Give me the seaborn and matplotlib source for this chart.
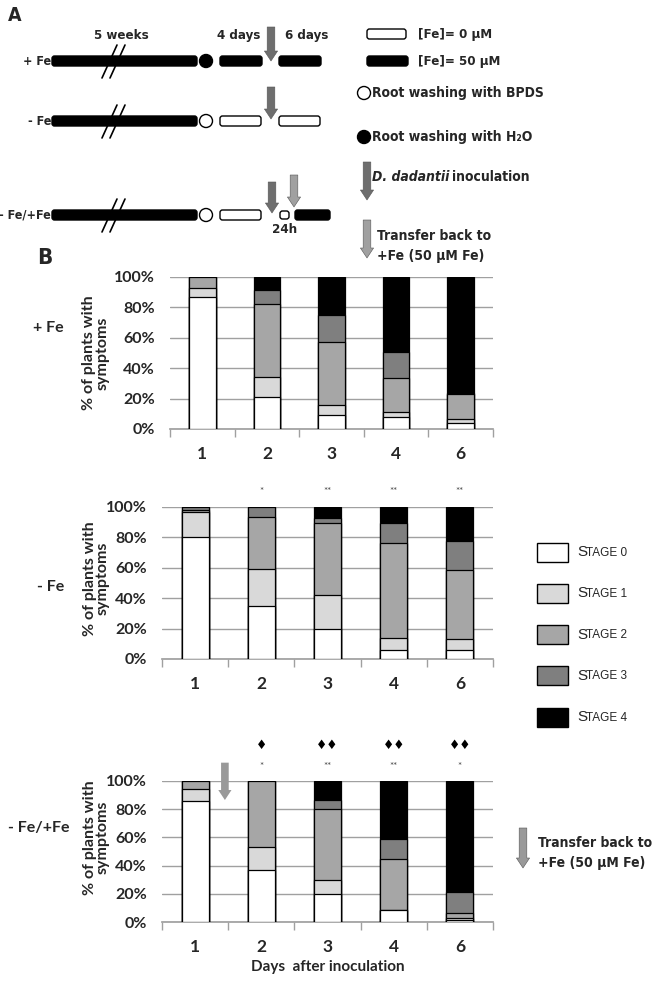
import numpy as np
import matplotlib
matplotlib.use("Agg")
import matplotlib.pyplot as plt
from matplotlib.patches import FancyBboxPatch, Rectangle, Circle
import seaborn as sns

# ---- data ----
days = ["1", "2", "3", "4", "6"]
stages = ["0", "1", "2", "3", "4"]
stage_colors = ["#ffffff", "#d9d9d9", "#a6a6a6", "#7f7f7f", "#000000"]

# rows = stage 0..4, columns = days
plus_fe = [[87, 21, 9, 8, 4],
           [6, 13, 7, 3.5, 2.5],
           [7, 48, 41, 22, 16.5],
           [0, 9.5, 18, 17, 1],
           [0, 8.5, 25, 49.5, 76]]
minus_fe = [[80, 35, 20, 6, 6],
            [16.5, 24, 22, 7.5, 7],
            [1.5, 34.5, 47.5, 62.5, 45.5],
            [2, 6.5, 3, 13.5, 19],
            [0, 0, 7.5, 10.5, 22.5]]
back_fe = [[86, 37, 20, 8.5, 1.5],
           [8, 16, 9.5, 0, 1.5],
           [6, 47, 50.5, 36.5, 3.5],
           [0, 0, 6.5, 14, 14.5],
           [0, 0, 13.5, 41, 79]]

minus_stars = ["", "*", "**", "**", "**"]
back_stars = ["", "*", "**", "**", "*"]
back_diamonds = ["", "\u2666", "\u2666\u2666", "\u2666\u2666", "\u2666\u2666"]

sns.set_theme(style="white")
plt.rcParams['font.family'] = ['Lato', 'DejaVu Sans']
NARROW = dict(family="DejaVu Sans", fontstretch="condensed", fontweight="bold")
DARK = "#6e6e6e"
LIGHT = "#a0a0a0"

W, H = 671, 982
fig = plt.figure(figsize=(W / 100, H / 100), dpi=100)

# overlay axes in pixel coordinates for the scheme (panel A) and extra labels
ov = fig.add_axes([0, 0, 1, 1])
ov.set_xlim(0, W)
ov.set_ylim(H, 0)
ov.axis("off")


def down_arrow(ax, x, y_from, y_to, color, ms=10):
    ax.annotate("", xy=(x, y_to), xytext=(x, y_from),
                arrowprops=dict(arrowstyle="simple,head_length=0.72,head_width=0.95,tail_width=0.55",
                                fc=color, ec="#555555", lw=0.4, shrinkA=0, shrinkB=0,
                                mutation_scale=ms),
                annotation_clip=False)


def seg(x0, x1, y, filled, h=10):
    ov.add_patch(FancyBboxPatch((x0, y - h / 2), x1 - x0, h,
                                boxstyle="round,pad=0,rounding_size=2.5",
                                fc="black" if filled else "white", ec="black", lw=1))


def slash(y):
    for dx in (0, 8):
        ov.plot([102 + dx, 117 + dx], [y + 17, y - 16], color="black", lw=1.2)


# ---- panel A ----
ov.text(8, 15, "A", fontsize=14, va="center", **NARROW)
ov.text(121, 35, "5 weeks", fontsize=9.5, ha="center", va="center", **NARROW)
ov.text(239, 35, "4 days", fontsize=9.5, ha="center", va="center", **NARROW)
ov.text(307, 35, "6 days", fontsize=9.5, ha="center", va="center", **NARROW)

row_y = [61, 121, 215]
row_names = ["+ Fe", "- Fe", "- Fe/+Fe"]
for y, name in zip(row_y, row_names):
    ov.text(51, y, name, fontsize=9, ha="right", va="center", **NARROW)
    seg(52, 197, y, True)
    slash(y)

# +Fe row
ov.add_patch(Circle((206, 61), 6.5, fc="black", ec="black", lw=1))
seg(220, 262, 61, True)
seg(279, 321, 61, True)
down_arrow(ov, 271, 27, 61, DARK)
# -Fe row
ov.add_patch(Circle((206, 121), 6.5, fc="white", ec="black", lw=1))
seg(220, 261, 121, False)
seg(279, 320, 121, False)
down_arrow(ov, 271, 87, 119, DARK)
# -Fe/+Fe row
ov.add_patch(Circle((206, 215), 6.5, fc="white", ec="black", lw=1))
seg(220, 261, 215, False)
seg(280, 289, 215, False, h=8)
seg(295, 330, 215, True)
down_arrow(ov, 272, 182, 213, DARK)
down_arrow(ov, 294, 175, 207, LIGHT)
ov.text(285, 229, "24h", fontsize=9.5, ha="center", va="center", **NARROW)

# scheme legend
seg(367, 406, 34, False)
ov.text(418, 34, "[Fe]= 0 \u00b5M", fontsize=9.5, va="center", **NARROW)
seg(367, 408, 61, True)
ov.text(418, 61, "[Fe]= 50 \u00b5M", fontsize=9.5, va="center", **NARROW)
ov.add_patch(Circle((364, 93), 6.5, fc="white", ec="black", lw=1))
ov.text(372, 93, "Root washing with BPDS", fontsize=10, va="center", **NARROW)
ov.add_patch(Circle((364, 137), 6.5, fc="black", ec="black", lw=1))
ov.text(372, 137, "Root washing with H\u2082O", fontsize=10, va="center", **NARROW)
down_arrow(ov, 367, 162, 200, DARK)
species = ov.text(372, 177, "D. dadantii", fontsize=10, style="italic", va="center", **NARROW)
renderer = fig.canvas.get_renderer()
bb = species.get_window_extent(renderer=renderer)
ov.text(bb.x1 + 3, 177, "inoculation", fontsize=10, va="center", **NARROW)
down_arrow(ov, 367, 220, 258, LIGHT)
ov.text(377, 236, "Transfer back to", fontsize=10, va="center", **NARROW)
ov.text(377, 256, "+Fe (50 \u00b5M Fe)", fontsize=10, va="center", **NARROW)

ov.text(37, 258, "B", fontsize=16, va="center", **NARROW)


# ---- panel B ----
def px_axes(x0, x1, y_top, y_bot):
    return fig.add_axes([x0 / W, 1 - y_bot / H, (x1 - x0) / W, (y_bot - y_top) / H])


def draw_panel(ax, data, label_y):
    cum = np.cumsum(np.array(data, dtype=float), axis=0)
    for k in range(len(stages) - 1, -1, -1):
        sns.barplot(x=days, y=cum[k], order=days, color=stage_colors[k], saturation=1,
                    edgecolor="black", linewidth=0.9, width=0.41, errorbar=None, ax=ax, zorder=3)
    ax.set_xlim(-0.5, 4.5)
    ax.set_ylim(0, 100)
    ax.set_yticks(range(0, 101, 20))
    ax.set_yticklabels([f"{v}%" for v in range(0, 101, 20)], fontsize=11.5, fontweight="bold")
    ax.set_axisbelow(True)
    ax.yaxis.grid(True, color="#a0a0a0", lw=1)
    ax.xaxis.grid(False)
    for s in ["top", "right", "left"]:
        ax.spines[s].set_visible(False)
    ax.spines["bottom"].set_color("#a0a0a0")
    ax.set_xticks(np.arange(-0.5, 5, 1), minor=True)
    ax.tick_params(axis="x", which="minor", length=6, width=1, color="#a0a0a0", direction="out", bottom=True)
    ax.tick_params(axis="x", which="major", length=0, pad=12, labelsize=12.5)
    for t in ax.get_xticklabels():
        t.set_fontweight("bold")
    ax.tick_params(axis="y", length=0, pad=11)
    ax.set_xlabel("")
    ax.set_ylabel("% of plants with\nsymptoms", fontsize=11.5, fontweight="bold", linespacing=0.95)
    ax.yaxis.set_label_coords(*label_y)


ax1 = px_axes(170, 493, 277, 429)
draw_panel(ax1, plus_fe, (-0.186, 0.5))
ax2 = px_axes(162, 493, 507, 659)
draw_panel(ax2, minus_fe, (-0.157, 0.53))
ax3 = px_axes(162, 493, 781, 922)
draw_panel(ax3, back_fe, (-0.157, 0.6))

for i, s in enumerate(minus_stars):
    ax2.text(i, 110, s, ha="center", va="center", fontsize=7, color="#444444", clip_on=False)
for i, s in enumerate(back_stars):
    ax3.text(i, 110, s, ha="center", va="center", fontsize=7, color="#444444", clip_on=False)
for i, s in enumerate(back_diamonds):
    ax3.text(i, 125.5, s, ha="center", va="center", fontsize=9, color="black",
             family="DejaVu Sans", clip_on=False)

ax3.set_xlabel("Days  after inoculation", fontsize=11, fontweight="bold")
ax3.xaxis.set_label_coords(0.5, -0.27)
ax3.annotate("", xy=(0.45, 86.5), xytext=(0.45, 113),
             arrowprops=dict(arrowstyle="simple,head_length=0.72,head_width=0.95,tail_width=0.55",
                             fc="#999999", ec="none", shrinkA=0, shrinkB=0, mutation_scale=10),
             annotation_clip=False)

# row labels
ov.text(64, 328, "+ Fe", fontsize=11.5, fontweight="bold", ha="right", va="center")
ov.text(64, 587, "- Fe", fontsize=11.5, fontweight="bold", ha="right", va="center")
ov.text(70, 828, "- Fe/+Fe", fontsize=11.5, fontweight="bold", ha="right", va="center")

# stage legend
for k, (st, col) in enumerate(zip(stages, stage_colors)):
    yc = 552 + k * 41.3
    ov.add_patch(Rectangle((537, yc - 9.5), 31, 19, fc=col, ec="black", lw=1))
    ov.text(577, yc, "S", fontsize=11, family=["Liberation Sans", "DejaVu Sans"], va="center")
    ov.text(586, yc + 0.5, "TAGE " + st, fontsize=8.5, family=["Liberation Sans", "DejaVu Sans"], va="center")

# transfer back legend near panel 3
down_arrow(ov, 523, 828, 868, "#999999")
ov.text(538, 843, "Transfer back to", fontsize=10, va="center", **NARROW)
ov.text(538, 863, "+Fe (50 \u00b5M Fe)", fontsize=10, va="center", **NARROW)

fig.savefig("out.png", dpi=100)
